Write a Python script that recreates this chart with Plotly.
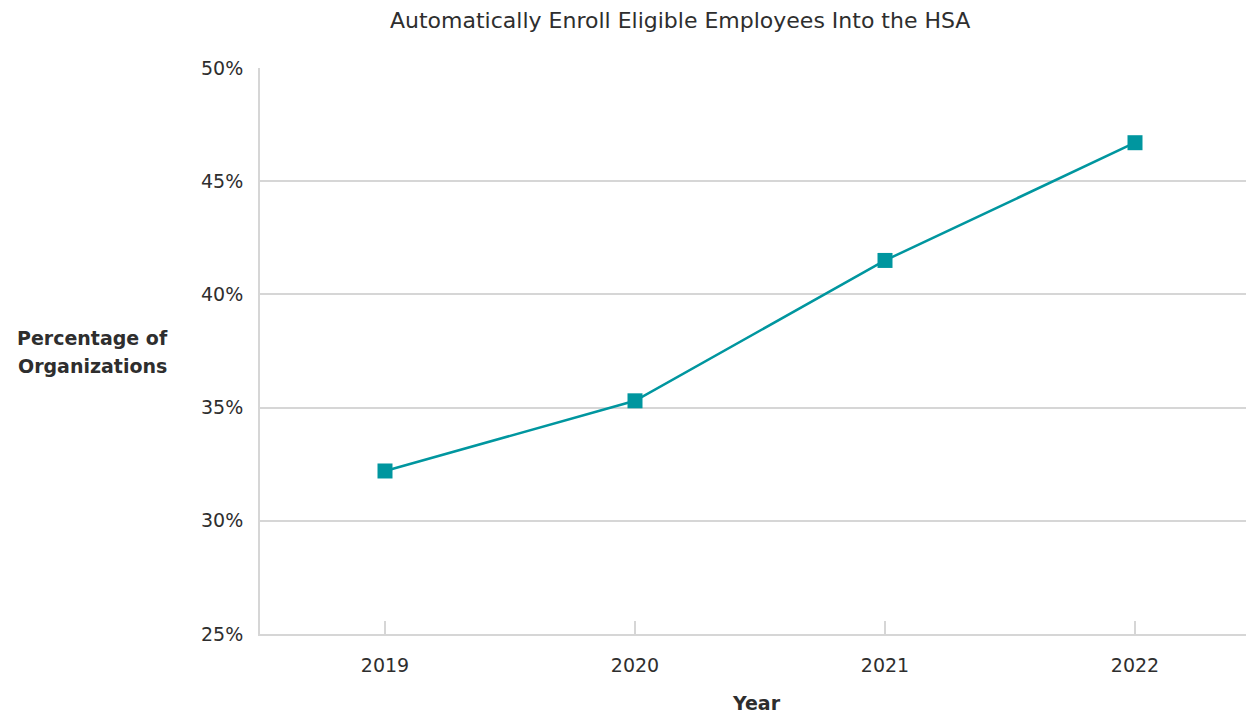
import plotly.graph_objects as go

years = ["2019", "2020", "2021", "2022"]
values = [32.2, 35.3, 41.5, 46.7]
y_ticks = [25, 30, 35, 40, 45, 50]
y_tick_labels = ["25%", "30%", "35%", "40%", "45%", "50%"]
y_title_lines = ["Percentage of", "Organizations"]

FONT = "DejaVu Sans"
TEAL = "#00969f"
GRID = "#d6d6d6"
TXT = "#2e2e2e"

# page has an 8px body offset; compensate so the plot lands where the reference does
OFF = 8
W, H = 1254 - OFF, 717 - OFF
plot_l, plot_r, plot_t, plot_b = 260, 1253, 68, 634
L = plot_l - OFF
T = plot_t - OFF
R = max(W - (plot_r - OFF), 0)
B = H - (plot_b - OFF)
pw = plot_r - plot_l
ph = plot_b - plot_t


def py(y_px):
    return (plot_b - y_px) / ph


def px(x_px):
    return (x_px - plot_l) / pw


fig = go.Figure()
fig.add_trace(go.Scatter(
    x=years, y=values, mode="lines+markers",
    line=dict(color=TEAL, width=2.5),
    marker=dict(symbol="square", size=15, color=TEAL),
    showlegend=False, hoverinfo="x+y",
))

fig.update_layout(
    width=W, height=H,
    margin=dict(l=L, r=R, t=T, b=B),
    paper_bgcolor="white", plot_bgcolor="white",
    font=dict(family=FONT, size=19, color=TXT),
    xaxis=dict(
        type="category", range=[-0.5, 3.472],
        showgrid=False, showline=True, linecolor=GRID, linewidth=2,
        ticks="inside", ticklen=13, tickwidth=1.5, tickcolor=GRID,
        tickfont=dict(size=19), ticklabelstandoff=13,
        title=dict(text="<b>Year</b>", font=dict(size=19), standoff=22),
    ),
    yaxis=dict(
        range=[25, 50], tickvals=y_ticks, ticktext=y_tick_labels,
        showgrid=True, gridcolor=GRID, gridwidth=1.5,
        showline=True, linecolor=GRID, linewidth=2,
        ticks="", tickfont=dict(size=19), ticklabelstandoff=11,
        zeroline=False,
    ),
)

fig.add_annotation(
    text="Automatically Enroll Eligible Employees Into the HSA",
    xref="paper", yref="paper", x=px(680), y=py(20),
    xanchor="center", yanchor="middle", showarrow=False,
    font=dict(size=22, color=TXT),
)
for line_text, y_px in zip(y_title_lines, [338, 366]):
    fig.add_annotation(
        text=f"<b>{line_text}</b>",
        xref="paper", yref="paper", x=px(92), y=py(y_px),
        xanchor="center", yanchor="middle", showarrow=False,
        font=dict(size=19, color=TXT),
    )

fig.write_html("out.html")
